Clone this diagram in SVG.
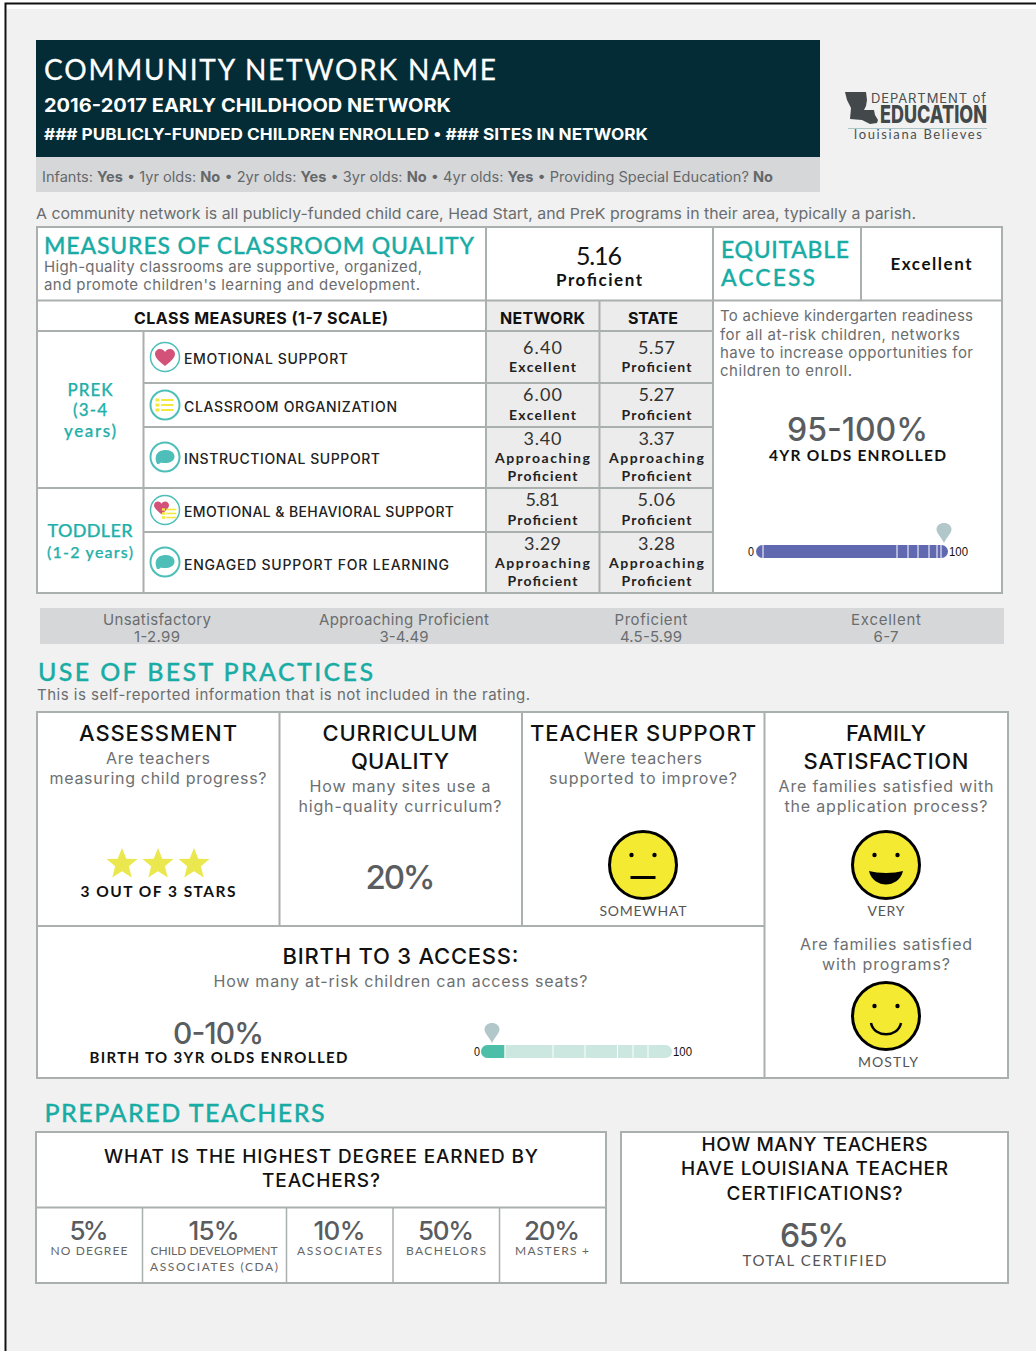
<svg xmlns="http://www.w3.org/2000/svg" xmlns:xlink="http://www.w3.org/1999/xlink" width="1036" height="1351" viewBox="0 0 1036 1351">
<style>
text{font-family:"Inter","Liberation Sans",sans-serif;fill:#6a6d6f;font-size:15px}
.c{text-anchor:middle}
.g{font-family:"Lato","Noto Sans",sans-serif}
.teal{fill:#19aca5;font-weight:500;stroke:#19aca5;stroke-width:.3px}
.h2{font-size:23px}
.lab{fill:#1fb0aa;font-size:17px;font-weight:500;stroke:#1fb0aa;stroke-width:.25px;text-anchor:middle}
.blk{fill:#111;font-weight:700}
.row{fill:#222;font-size:14px;font-weight:500}
.val{fill:#333;font-size:18px;text-anchor:middle}
.rate{fill:#222;font-size:14px;font-weight:700;text-anchor:middle}
.hd{fill:#111;font-size:22px;font-weight:500;text-anchor:middle}
.q{fill:#6d7072;font-size:16px;text-anchor:middle}
.big{fill:#5a5d5f;font-weight:500;text-anchor:middle}
.cap{fill:#555;font-size:14px;text-anchor:middle}
.sub{fill:#666;font-size:12px;text-anchor:middle}
.ln{fill:none;stroke:#a9b0ae;stroke-width:2}
.tick{fill:#111;font-size:12px;font-family:"Liberation Sans",sans-serif}
.face{fill:#f4ea31;stroke:#000;stroke-width:3}
</style>
<defs>
<path id="heart" d="M0 9C-5 5-10 1-10-3-10-6-7.500-8-5-8-3-8-1-7 0-5 1-7 3-8 5-8 7.500-8 10-6 10-3 10 1 5 5 0 9Z" fill="#d2527a"/>
<circle id="ring" r="14.500" fill="#fff" stroke="#4dbfb8" stroke-width="1.500"/>
<g id="list"><g fill="#f2e93a"><rect x="-9.500" y="-6.500" width="4" height="3"/><rect x="-9.500" y="-1.500" width="4" height="3"/><rect x="-9.500" y="3.500" width="4" height="3"/><rect x="-4" y="-6" width="12.500" height="2"/><rect x="-4" y="-1" width="12.500" height="2"/><rect x="-4" y="4" width="12.500" height="2"/></g></g>
<g id="bubble"><circle r="14.500" fill="#fff" stroke="#4dbfb8" stroke-width="2"/><path d="M-8 7C-9 4-10 2-9-1-8-5-4-7 1-7 6-7 10-4 9.500 0 9 4 5 6 0 6-2 6-3 6-4 5.500-5 6.500-6.500 7-8 7Z" fill="#4dbfb8"/></g>
<path id="pin" d="M0 20C-3 14-7.500 10-7.500 6.500-7.500 2.500-4 0 0 0 4 0 7.500 2.500 7.500 6.500 7.500 10 3 14 0 20Z" fill="#b1c7ca"/>
<polygon id="star" points="0,-16 4.300,-5.300 15.500,-5 6.900,2.200 9.700,13.400 0,7.200 -9.700,13.400 -6.900,2.200 -15.500,-5 -4.300,-5.300" fill="#ebe84f"/>
<g id="eyes"><circle cx="-11.500" cy="-10" r="2.200" fill="#000"/><circle cx="11.500" cy="-10" r="2.200" fill="#000"/></g>
</defs>

<rect width="1036" height="1351" fill="#fff"/>
<rect x="7" y="9" width="1029" height="1342" fill="#f1f1f1"/>
<path d="M5.500 1351V3.500H1036" fill="none" stroke="#111" stroke-width="2"/>

<g id="header">
<rect x="36" y="40" width="784" height="117" fill="#032c36"/>
<rect x="36" y="157" width="784" height="35" fill="#d6d7d9"/>
<text x="44" y="80" class="g" style="font-size:28px;fill:#fff;stroke:#fff;stroke-width:.3px" textLength="452">COMMUNITY NETWORK NAME</text>
<text x="44" y="112" style="font-size:19px;fill:#fff;font-weight:700" textLength="407" lengthAdjust="spacingAndGlyphs">2016-2017 EARLY CHILDHOOD NETWORK</text>
<text x="44" y="140" style="font-size:15.500px;fill:#fff;font-weight:700" textLength="604" lengthAdjust="spacingAndGlyphs">### PUBLICLY-FUNDED CHILDREN ENROLLED • ### SITES IN NETWORK</text>
<text x="42" y="182" style="font-size:14px;fill:#65686a" textLength="731" lengthAdjust="spacingAndGlyphs">Infants: <tspan font-weight="700">Yes</tspan> • 1yr olds: <tspan font-weight="700">No</tspan> • 2yr olds: <tspan font-weight="700">Yes</tspan> • 3yr olds: <tspan font-weight="700">No</tspan> • 4yr olds: <tspan font-weight="700">Yes</tspan> • Providing Special Education? <tspan font-weight="700">No</tspan></text>
</g>

<g id="logo">
<polygon points="845,92 866,92 867,100 866,106 864,110 874,110 875,115 878,120 877,123 870,124 862,120 850,119 851,108 847,100" fill="#43494b"/>
<text x="871" y="103" style="font-size:13px;fill:#4a4f50" textLength="115">DEPARTMENT of</text>
<text x="880" y="123" style="font-size:24px;fill:#43494b;font-weight:800" textLength="107" lengthAdjust="spacingAndGlyphs">EDUCATION</text>
<rect x="848" y="128" width="139" height="1" fill="#a9c5c5"/>
<text x="854" y="139" class="g" style="font-size:13px;fill:#4a4f50" textLength="128">louisiana Believes</text>
</g>

<text id="intro" x="36" y="219" textLength="880" lengthAdjust="spacingAndGlyphs">A community network is all publicly-funded child care, Head Start, and PreK programs in their area, typically a parish.</text>

<g id="quality-table">
<rect x="37.500" y="226.500" width="964" height="366" fill="#fff"/>
<rect x="486" y="301" width="227" height="292" fill="#ececec"/>
<path class="ln" d="M37 227H1002V593H37ZM486 227V593M713 227V593M861 227V300M37 300.500H1002M37 331H713M143.500 331V593M143 383H713M143 427H713M37 488H713M143 532H713M599.500 301V593"/>
<text x="44" y="254" class="g teal h2" textLength="430">MEASURES OF CLASSROOM QUALITY</text>
<text x="44" y="272" textLength="378">High-quality classrooms are supportive, organized,</text>
<text x="44" y="290" textLength="376">and promote children's learning and development.</text>
<text x="599" y="265" class="g c" style="font-size:25px;fill:#111" textLength="46">5.16</text>
<text x="599" y="286" class="g c" style="font-size:17px;fill:#111;font-weight:700" textLength="86">Proficient</text>
<text x="721" y="258" class="g teal h2" textLength="128">EQUITABLE</text>
<text x="721" y="286" class="g teal h2" textLength="94">ACCESS</text>
<text x="931" y="270" class="g c" style="font-size:17px;fill:#111;font-weight:700" textLength="81">Excellent</text>
<text x="261" y="324" class="blk c" style="font-size:16px" textLength="254">CLASS MEASURES (1-7 SCALE)</text>
<text x="542.500" y="324" class="blk c" style="font-size:16px" textLength="85">NETWORK</text>
<text x="653" y="324" class="blk c" style="font-size:16px" textLength="50">STATE</text>
<text x="90" y="396" class="g lab" textLength="45">PREK</text>
<text x="90" y="416" class="g lab" textLength="34">(3-4</text>
<text x="90" y="437" class="g lab" textLength="52">years)</text>
<text x="90" y="537" class="g lab" style="font-size:18px" textLength="85">TODDLER</text>
<text x="90" y="558" class="g lab" style="font-size:16px" textLength="86">(1-2 years)</text>
<text x="184" y="364" class="row" textLength="164">EMOTIONAL SUPPORT</text>
<text x="184" y="412" class="row" textLength="213">CLASSROOM ORGANIZATION</text>
<text x="184" y="464" class="row" textLength="196">INSTRUCTIONAL SUPPORT</text>
<text x="184" y="517" class="row" textLength="270">EMOTIONAL &amp; BEHAVIORAL SUPPORT</text>
<text x="184" y="570" class="row" textLength="265">ENGAGED SUPPORT FOR LEARNING</text>
<g transform="translate(165 357)"><use href="#ring" xlink:href="#ring"/><use href="#heart" xlink:href="#heart"/></g>
<g transform="translate(165 405)"><circle r="14.500" fill="#fff" stroke="#4dbfb8" stroke-width="2"/><use href="#list" xlink:href="#list"/></g>
<use href="#bubble" xlink:href="#bubble" x="165" y="457"/>
<g transform="translate(165 510)"><use href="#ring" xlink:href="#ring"/><g transform="translate(-3.500 -2.500) scale(.75)"><use href="#heart" xlink:href="#heart"/></g><g transform="translate(4.500 3.500) scale(.8)"><use href="#list" xlink:href="#list"/></g></g>
<use href="#bubble" xlink:href="#bubble" x="165" y="562"/>

<text x="542.500" y="354" class="g val" textLength="39">6.40</text><text x="542.500" y="372" class="g rate" textLength="67">Excellent</text>
<text x="656.500" y="354" class="g val" textLength="37">5.57</text><text x="656.500" y="372" class="g rate" textLength="70">Proficient</text>
<text x="542.500" y="401" class="g val" textLength="39">6.00</text><text x="542.500" y="420" class="g rate" textLength="67">Excellent</text>
<text x="656.500" y="401" class="g val" textLength="36">5.27</text><text x="656.500" y="420" class="g rate" textLength="70">Proficient</text>
<text x="542.500" y="445" class="g val" textLength="38">3.40</text><text x="542.500" y="463" class="g rate" textLength="95">Approaching</text><text x="542.500" y="481" class="g rate" textLength="70">Proficient</text>
<text x="656.500" y="445" class="g val" textLength="36">3.37</text><text x="656.500" y="463" class="g rate" textLength="95">Approaching</text><text x="656.500" y="481" class="g rate" textLength="70">Proficient</text>
<text x="542.500" y="506" class="g val" textLength="34">5.81</text><text x="542.500" y="525" class="g rate" textLength="70">Proficient</text>
<text x="656.500" y="506" class="g val" textLength="38">5.06</text><text x="656.500" y="525" class="g rate" textLength="70">Proficient</text>
<text x="542.500" y="550" class="g val" textLength="37">3.29</text><text x="542.500" y="568" class="g rate" textLength="95">Approaching</text><text x="542.500" y="586" class="g rate" textLength="70">Proficient</text>
<text x="656.500" y="550" class="g val" textLength="37">3.28</text><text x="656.500" y="568" class="g rate" textLength="95">Approaching</text><text x="656.500" y="586" class="g rate" textLength="70">Proficient</text>

<text x="720" y="321" textLength="253">To achieve kindergarten readiness</text>
<text x="720" y="340" textLength="240">for all at-risk children, networks</text>
<text x="720" y="358" textLength="253">have to increase opportunities for</text>
<text x="720" y="376" textLength="132">children to enroll.</text>
<text x="857.500" y="441" class="big" style="font-size:32px" textLength="141">95-100%</text>
<text x="857.500" y="461" class="g c" style="font-size:15.500px;fill:#111;font-weight:700" textLength="177">4YR OLDS ENROLLED</text>
<rect x="756" y="545" width="192" height="13" rx="6.500" fill="#6068b0"/>
<path d="M763 545v13M897 545v13M908 545v13M918 545v13M929 545v13M937 545v13M941 545v13" stroke="#fff" stroke-width="1"/>
<use href="#pin" xlink:href="#pin" x="944" y="523"/>
<text x="748" y="556" class="tick" textLength="6" lengthAdjust="spacingAndGlyphs">0</text>
<text x="949" y="556" class="tick" textLength="19" lengthAdjust="spacingAndGlyphs">100</text>
</g>

<g id="legend">
<rect x="40" y="608" width="964" height="36" fill="#d6d7d9"/>
<text x="157" y="625" class="c" textLength="108">Unsatisfactory</text><text x="157" y="642" class="c" textLength="46">1-2.99</text>
<text x="404" y="625" class="c" textLength="170">Approaching Proficient</text><text x="404" y="642" class="c" textLength="49">3-4.49</text>
<text x="651" y="625" class="c" textLength="73">Proficient</text><text x="651" y="642" class="c" textLength="62">4.5-5.99</text>
<text x="886" y="625" class="c" textLength="70">Excellent</text><text x="886" y="642" class="c" textLength="25">6-7</text>
</g>

<g id="best-practices">
<text x="38" y="681" class="g teal" style="font-size:25px" textLength="335">USE OF BEST PRACTICES</text>
<text x="37" y="700" textLength="493">This is self-reported information that is not included in the rating.</text>
<rect x="37" y="712" width="971" height="366" fill="#fff"/>
<path class="ln" d="M37 712H1008V1078H37ZM279.500 712V926M522 712V926M764.500 712V1078M37 926H764"/>
<text x="158" y="741" class="hd" textLength="158">ASSESSMENT</text>
<text x="158" y="764" class="q" textLength="104">Are teachers</text>
<text x="158" y="784" class="q" textLength="217">measuring child progress?</text>
<use href="#star" xlink:href="#star" x="122" y="864"/><use href="#star" xlink:href="#star" x="158" y="864"/><use href="#star" xlink:href="#star" x="194" y="864"/>
<text x="158" y="897" class="g c" style="font-size:15.500px;fill:#111;font-weight:700" textLength="155">3 OUT OF 3 STARS</text>
<text x="400" y="741" class="hd" textLength="155">CURRICULUM</text><text x="400" y="769" class="hd" textLength="98">QUALITY</text>
<text x="400" y="792" class="q" textLength="181">How many sites use a</text>
<text x="400" y="812" class="q" textLength="203">high-quality curriculum?</text>
<text x="400.500" y="889" class="big" style="font-size:33px" textLength="70">20%</text>
<text x="643" y="741" class="hd" textLength="226">TEACHER SUPPORT</text>
<text x="643" y="764" class="q" textLength="118">Were teachers</text>
<text x="643" y="784" class="q" textLength="188">supported to improve?</text>
<g transform="translate(643 865)"><circle r="33.500" class="face"/><use href="#eyes" xlink:href="#eyes"/><rect x="-12.500" y="11" width="25" height="3" fill="#000"/></g>
<text x="643" y="916" class="g cap" textLength="87">SOMEWHAT</text>
<text x="886" y="741" class="hd" textLength="80">FAMILY</text><text x="886" y="769" class="hd" textLength="165">SATISFACTION</text>
<text x="886" y="792" class="q" textLength="215">Are families satisfied with</text>
<text x="886" y="812" class="q" textLength="203">the application process?</text>
<g transform="translate(886 865)"><circle r="33.500" class="face"/><use href="#eyes" xlink:href="#eyes"/><path d="M-17 6C-8 8.500 8 8.500 17 6 15 15 7 19.500 0 19.500-7 19.500-15 15-17 6Z" fill="#000"/></g>
<text x="886" y="916" class="g cap" textLength="37">VERY</text>
<text x="886" y="950" class="q" textLength="172">Are families satisfied</text>
<text x="886" y="970" class="q" textLength="128">with programs?</text>
<g transform="translate(886 1016)"><circle r="33.500" class="face"/><use href="#eyes" xlink:href="#eyes"/><path d="M-15 7C-12 22 12 22 15 7" fill="none" stroke="#000" stroke-width="2.500"/></g>
<text x="888" y="1067" class="g cap" textLength="60">MOSTLY</text>
<text x="400.500" y="964" class="hd" textLength="236">BIRTH TO 3 ACCESS:</text>
<text x="400.500" y="987" class="q" textLength="374">How many at-risk children can access seats?</text>
<text x="218.500" y="1044" class="big" style="font-size:30px" textLength="91">0-10%</text>
<text x="218.500" y="1063" class="g c" style="font-size:15px;fill:#111;font-weight:700" textLength="258">BIRTH TO 3YR OLDS ENROLLED</text>
<rect x="481" y="1045" width="191" height="13" rx="6.500" fill="#cbe7df"/>
<path d="M504.500 1045H487.500A6.500 6.500 0 0 0 487.500 1058H504.500Z" fill="#4dbfa9"/>
<path d="M505 1045v13M553 1045v13M585 1045v13M617.500 1045v13M633 1045v13M648 1045v13" stroke="#fff" stroke-width="1"/>
<use href="#pin" xlink:href="#pin" x="492" y="1023"/>
<text x="474" y="1056" class="tick" textLength="6" lengthAdjust="spacingAndGlyphs">0</text>
<text x="673" y="1056" class="tick" textLength="19" lengthAdjust="spacingAndGlyphs">100</text>
</g>

<g id="prepared-teachers">
<text x="44.500" y="1122" class="g teal" style="font-size:25px" textLength="280">PREPARED TEACHERS</text>
<rect x="36" y="1132" width="570" height="151" fill="#fff"/>
<rect x="621" y="1132" width="387" height="151" fill="#fff"/>
<path class="ln" d="M36 1132H606V1283H36ZM36 1207.500H606M621 1132H1008V1283H621Z"/>
<path d="M142.500 1208V1283M286.500 1208V1283M393 1208V1283M499.500 1208V1283" fill="none" stroke="#a9b0ae" stroke-width="1.500"/>
<text x="321" y="1163" class="c" style="font-size:19px;fill:#111;font-weight:500" textLength="434">WHAT IS THE HIGHEST DEGREE EARNED BY</text>
<text x="321" y="1187" class="c" style="font-size:19px;fill:#111;font-weight:500" textLength="118">TEACHERS?</text>
<text x="814.500" y="1151" class="c" style="font-size:19px;fill:#111;font-weight:500" textLength="226">HOW MANY TEACHERS</text>
<text x="814.500" y="1175" class="c" style="font-size:19px;fill:#111;font-weight:500" textLength="267">HAVE LOUISIANA TEACHER</text>
<text x="814.500" y="1200" class="c" style="font-size:19px;fill:#111;font-weight:500" textLength="176">CERTIFICATIONS?</text>
<text x="814.500" y="1247" class="big" style="font-size:32px" textLength="69">65%</text>
<text x="814.500" y="1266" class="cap g" style="font-size:15px" textLength="144">TOTAL CERTIFIED</text>
<text x="89" y="1240" class="big" style="font-size:26px" textLength="39">5%</text><text x="89" y="1255" class="g sub" textLength="77">NO DEGREE</text>
<text x="214" y="1240" class="big" style="font-size:26px" textLength="51">15%</text><text x="214" y="1255" class="g sub" textLength="127">CHILD DEVELOPMENT</text><text x="214" y="1271" class="g sub" textLength="128">ASSOCIATES (CDA)</text>
<text x="339.500" y="1240" class="big" style="font-size:26px" textLength="52">10%</text><text x="339.500" y="1255" class="g sub" textLength="85">ASSOCIATES</text>
<text x="446" y="1240" class="big" style="font-size:26px" textLength="56">50%</text><text x="446" y="1255" class="g sub" textLength="80">BACHELORS</text>
<text x="552" y="1240" class="big" style="font-size:26px" textLength="56">20%</text><text x="552" y="1255" class="g sub" textLength="74">MASTERS +</text>
</g>
</svg>
